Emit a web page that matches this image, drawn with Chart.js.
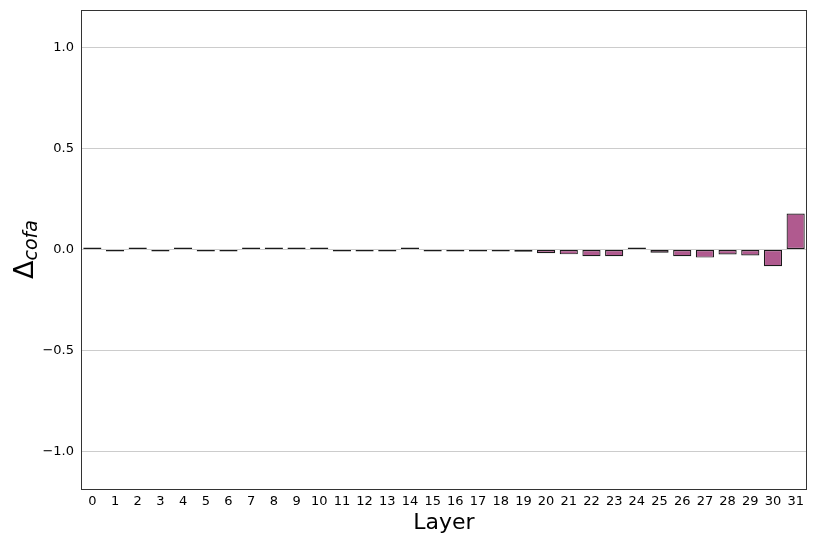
<!DOCTYPE html>
<html>
<head>
<meta charset="utf-8">
<script src="https://cdn.jsdelivr.net/npm/chart.js@4"></script>
<style>
  html, body { margin: 0; padding: 0; background: #fff; }
  #wrap { width: 817px; height: 545px; position: relative; }
</style>
</head>
<body>
<div id="wrap"><canvas id="deltaChart"></canvas></div>
<script>
/* Delta cofa per layer */
var layers = [];
for (var i = 0; i < 32; i++) layers.push(String(i));

var deltaCofa = [
  0.0005, -0.0005, 0.0005, -0.0007, 0.0005, -0.0005, -0.0005, 0.0005,
  0.001, 0.001, 0.001, -0.002, -0.001, -0.001, 0.003, -0.004,
  -0.003, -0.010, -0.010, -0.011, -0.018, -0.024, -0.033, -0.033,
  0.005, -0.016, -0.033, -0.040, -0.025, -0.030, -0.083, 0.178
];

var yTicks = [-1.0, -0.5, 0.0, 0.5, 1.0];
var yMin = -1.185;
var yMax = 1.185;

(function () {
  'use strict';

  var FONT = '"DejaVu Sans", sans-serif';

  function fmt(v) {
    var s = Math.abs(v).toFixed(1);
    return v < 0 ? '\u2212' + s : s;
  }

  // frame around the plot and the y title with its subscript
  var decor = {
    id: 'decor',
    afterDraw: function (chart) {
      var c = chart.ctx, a = chart.chartArea;
      c.save();
      c.strokeStyle = '#333';
      c.lineWidth = 1;
      c.strokeRect(Math.round(a.left) + 0.5, Math.round(a.top) + 0.5,
        Math.round(a.right - a.left) - 1, Math.round(a.bottom - a.top));

      c.translate(33, (a.top + a.bottom) / 2);
      c.rotate(-Math.PI / 2);
      c.fillStyle = '#000';
      c.textBaseline = 'alphabetic';
      c.font = '27px ' + FONT;
      var w1 = c.measureText('\u0394').width;
      c.font = 'italic 19px ' + FONT;
      var w2 = c.measureText('cofa').width;
      var x0 = -(w1 + w2) / 2;
      c.font = '27px ' + FONT;
      c.fillText('\u0394', x0, 0);
      c.font = 'italic 19px ' + FONT;
      c.fillText('cofa', x0 + w1, 4);
      c.restore();
    }
  };

  new Chart(document.getElementById('deltaChart'), {
    type: 'bar',
    data: {
      labels: layers,
      datasets: [{
        data: deltaCofa,
        backgroundColor: '#b05a8f',
        borderColor: '#1a1a1a',
        borderWidth: 1.2,
        borderSkipped: false,
        minBarLength: 2,
        barPercentage: 0.8,
        categoryPercentage: 1.0
      }]
    },
    options: {
      responsive: true,
      maintainAspectRatio: false,
      animation: false,
      layout: { autoPadding: false, padding: { left: 0, right: 10, top: 10, bottom: 9 } },
      plugins: { legend: { display: false }, tooltip: { enabled: false } },
      scales: {
        x: {
          offset: true,
          grid: { display: false, drawTicks: false },
          border: { display: false },
          ticks: { color: '#000', font: { family: FONT, size: 13 }, padding: 5, maxRotation: 0, autoSkip: false },
          title: { display: true, text: 'Layer', color: '#000', font: { family: FONT, size: 22 }, padding: { top: 0, bottom: 0 } },
          afterFit: function (s) { s.height = 47; s.paddingLeft = 0; s.paddingRight = 0; }
        },
        y: {
          min: yMin,
          max: yMax,
          grid: { color: '#cccccc', drawTicks: false, lineWidth: 1 },
          border: { display: false },
          ticks: { color: '#000', font: { family: FONT, size: 13 }, padding: 7, callback: function (v) { return fmt(v); } },
          afterBuildTicks: function (s) { s.ticks = yTicks.map(function (v) { return { value: v }; }); },
          afterFit: function (s) { s.width = 81; s.paddingTop = 0; s.paddingBottom = 0; }
        }
      }
    },
    plugins: [decor]
  });
})();
</script>
</body>
</html>
